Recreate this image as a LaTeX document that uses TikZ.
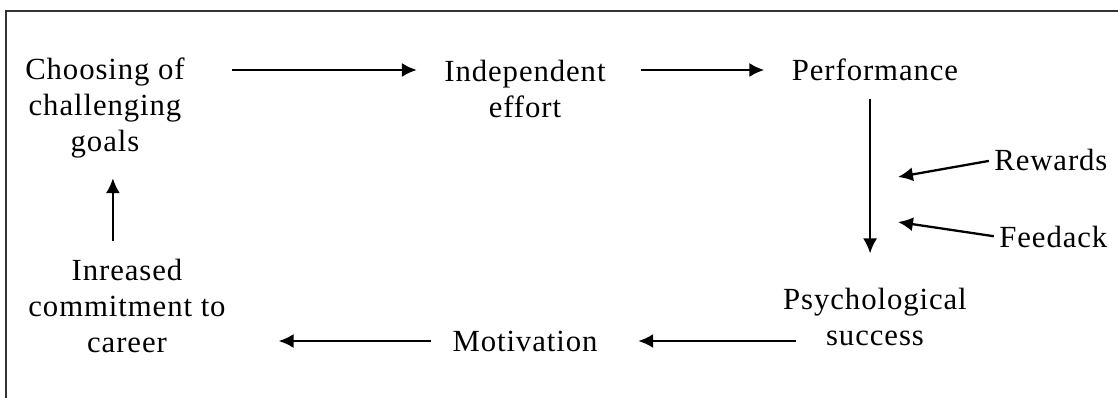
\documentclass[tikz,border=0pt]{standalone}
\usepackage{fontspec}
\setmainfont{Liberation Serif}[LetterSpace=3]
\usetikzlibrary{arrows.meta}

\tikzset{
  every node/.style={align=center, inner sep=0pt, font=\fontsize{17.5}{20.7}\selectfont},
  arr/.style={line width=1.3pt, -{Latex[length=8.5pt, width=8pt]}},
}

\begin{document}
\begin{tikzpicture}[x=0.02cm, y=-0.02cm]
            \useasboundingbox (0,0) rectangle (1118,398);
            % frame, only top and left edges show
            \draw[line width=1.1pt, draw=black!80] (6,398) -- (6,11) -- (1118,11);
            \node (choose) at (105,108) {Choosing of\\challenging\\goals};
            \node (indep) at (525,89) {Independent\\effort};
            \node (perf) at (875,70) {Performance};
            \node (psych) at (875,317) {Psychological\\success};
            \node (motiv) at (525,341) {Motivation};
            \node (incr) at (127,306) {Inreased\\commitment to\\career};
            \node[anchor=west] (rew) at (994,160) {Rewards};
            \node[anchor=west] (feed) at (999,237) {Feedack};
            \coordinate (rtip) at (898,177);
            \coordinate (ftip) at (898,222);
            \draw[arr, shorten <=26.5pt, shorten >=15.5pt] (choose.east |- perf) -- (indep.west |- perf);
            \draw[arr, shorten <=20pt, shorten >=15.5pt] (indep.east |- perf) -- (perf.west);
            \draw[arr, shorten <=10pt, shorten >=19.5pt] ([xshift=-2.8pt]perf.south) -- ([xshift=-2.8pt]perf.south |- psych.north);
            \draw[arr, shorten <=3pt] (rew.west) -- (rtip);
            \draw[arr, shorten <=3pt] (feed.west) -- (ftip);
            \draw[arr, shorten <=45pt, shorten >=23pt] (psych |- motiv) -- (motiv.east);
            \draw[arr, shorten <=12pt, shorten >=30pt] (motiv.west) -- (incr.east |- motiv);
            \draw[arr, shorten <=10pt, shorten >=11pt] ([xshift=4.5pt]choose.south |- incr.north) -- ([xshift=4.5pt]choose.south);
        \end{tikzpicture}
\end{document}
